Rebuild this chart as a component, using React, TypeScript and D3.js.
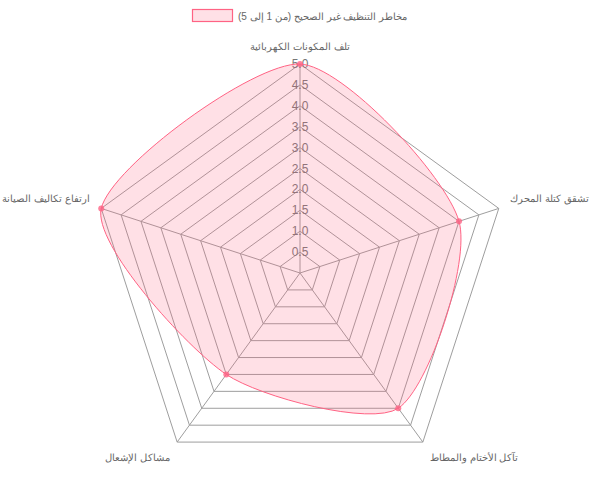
import React from "react";
import * as d3 from "d3";

const labels = [
  "تلف المكونات الكهربائية",
  "تشقق كتلة المحرك",
  "تآكل الأختام والمطاط",
  "مشاكل الإشعال",
  "ارتفاع تكاليف الصيانة",
];
const values = [5, 4, 4, 3, 5];
const ticks = [0.5, 1, 1.5, 2, 2.5, 3, 3.5, 4, 4.5, 5];
const seriesName = "مخاطر التنظيف غير الصحيح (من 1 إلى 5)";

const W = 600;
const H = 500;
const cx = 300;
const cy = 273;
const R = 209;
const FONT = "'Helvetica Neue', Helvetica, Arial, sans-serif";
const tension = 0.25;

function pt(i: number, r: number): [number, number] {
  const a = -Math.PI / 2 + (i * 2 * Math.PI) / labels.length;
  return [cx + r * Math.cos(a), cy + r * Math.sin(a)];
}

function splinePath(pts: [number, number][], t: number): string {
  const n = pts.length;
  const cps = pts.map((cur, i) => {
    const prev = pts[(i - 1 + n) % n];
    const next = pts[(i + 1) % n];
    const d01 = Math.hypot(cur[0] - prev[0], cur[1] - prev[1]);
    const d12 = Math.hypot(next[0] - cur[0], next[1] - cur[1]);
    let s01 = d01 / (d01 + d12);
    let s12 = d12 / (d01 + d12);
    s01 = isNaN(s01) ? 0 : s01;
    s12 = isNaN(s12) ? 0 : s12;
    const fa = t * s01;
    const fb = t * s12;
    return {
      prev: [cur[0] - fa * (next[0] - prev[0]), cur[1] - fa * (next[1] - prev[1])],
      next: [cur[0] + fb * (next[0] - prev[0]), cur[1] + fb * (next[1] - prev[1])],
    };
  });
  const p = d3.path();
  p.moveTo(pts[0][0], pts[0][1]);
  for (let i = 0; i < n; i++) {
    const j = (i + 1) % n;
    p.bezierCurveTo(cps[i].next[0], cps[i].next[1], cps[j].prev[0], cps[j].prev[1], pts[j][0], pts[j][1]);
  }
  p.closePath();
  return p.toString();
}

export default function App() {
  const r = d3.scaleLinear().domain([0, 5]).range([0, R]);
  const n = labels.length;
  const gridColor = "#9e9e9e";
  const dataPts = values.map((v, i) => pt(i, r(v)));
  const poly = (rad: number) =>
    d3.range(n).map((i) => pt(i, rad).join(",")).join(" ");

  return (
    <svg width={W} height={H} style={{ position: "absolute", left: 0, top: 0, fontFamily: FONT }}>
      {/* legend */}
      <rect x={192.5} y={9.5} width={40} height={12} fill="rgba(255,99,132,0.2)" stroke="rgb(255,99,132)" strokeWidth={1.2} />
      <text x={238} y={16} fontSize={10} fill="#666" dominantBaseline="central" textAnchor="start">
        {"\u202B" + seriesName + "\u202C"}
      </text>

      {/* grid */}
      {ticks.map((t) => (
        <polygon key={t} points={poly(r(t))} fill="none" stroke={gridColor} strokeWidth={1} />
      ))}
      {d3.range(n).map((i) => {
        const [x, y] = pt(i, R);
        return <line key={i} x1={cx} y1={cy} x2={x} y2={y} stroke={gridColor} strokeWidth={1} />;
      })}

      {/* tick labels */}
      {ticks.map((t) => (
        <text key={t} x={cx} y={cy - r(t)} fontSize={12} fill="#777" textAnchor="middle" dominantBaseline="central">
          {t.toFixed(1)}
        </text>
      ))}

      {/* point labels */}
      {labels.map((lab, i) => {
        const angle = (i * 360) / n;
        const [x, y] = pt(i, R + 12);
        let anchor = "middle";
        if (angle === 0 || angle === 180) anchor = "middle";
        else if (angle < 180) anchor = "start";
        else anchor = "end";
        let yy = y;
        const h = 12;
        if (angle === 90 || angle === 270) yy = y;
        else if (angle > 270 || angle < 90) yy = y - h / 2;
        else yy = y + h / 2;
        return (
          <text key={i} x={x} y={yy} fontSize={10} fill="#666" textAnchor={anchor} dominantBaseline="central">
            {lab}
          </text>
        );
      })}

      {/* dataset */}
      <path d={splinePath(dataPts, tension)} fill="rgba(255,99,132,0.2)" stroke="rgb(255,99,132)" strokeWidth={1} />
      {dataPts.map((p, i) => (
        <circle key={i} cx={p[0]} cy={p[1]} r={3} fill="rgba(255,99,132,0.8)" />
      ))}
    </svg>
  );
}
